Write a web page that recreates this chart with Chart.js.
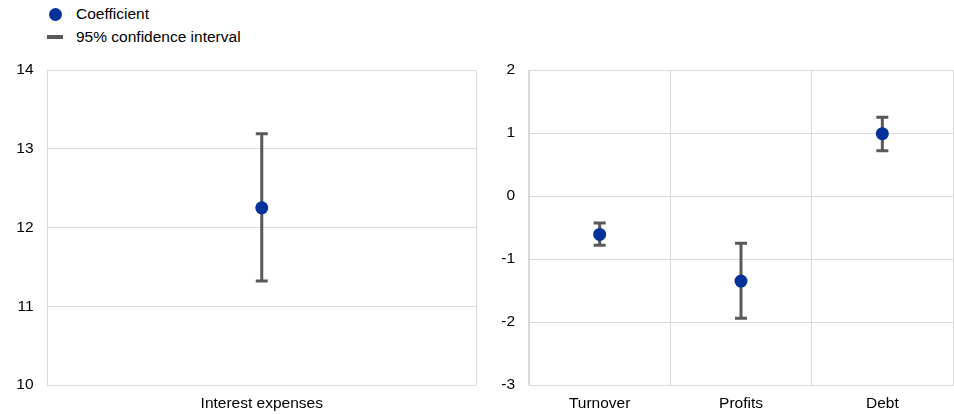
<!DOCTYPE html>
<html>
<head>
<meta charset="utf-8">
<script src="https://cdn.jsdelivr.net/npm/chart.js@4"></script>
<style>
  html,body{margin:0;padding:0;background:#fff;overflow:hidden;}
  #wrap{position:relative;width:954px;height:414px;font-family:"Liberation Sans",Arial,sans-serif;color:#000;}
  .legend-item{position:absolute;left:0;font-size:15.5px;line-height:18px;white-space:nowrap;}
  .dot{position:absolute;left:48.5px;top:2.5px;width:13px;height:13px;border-radius:50%;background:#003299;}
  .bar{position:absolute;left:47px;top:7px;width:16px;height:4px;background:#595959;}
  .lt{position:absolute;left:76px;top:0;}
  #cA{position:absolute;left:0;top:0;width:480px;height:414px;}
  #cB{position:absolute;left:480px;top:0;width:474px;height:414px;}
</style>
</head>
<body>
<div id="wrap">
  <div class="legend-item" style="top:5px;"><span class="dot"></span><span class="lt">Coefficient</span></div>
  <div class="legend-item" style="top:28px;"><span class="bar"></span><span class="lt">95% confidence interval</span></div>
  <div id="cA"><canvas id="chartA"></canvas></div>
  <div id="cB"><canvas id="chartB"></canvas></div>
</div>
<script>
// ---- Data ----
const leftCategories = ["Interest expenses"];
const leftCoefficient = [12.25];
const leftLower = [11.32];
const leftUpper = [13.19];
const leftTicks = { min: 10, max: 14, step: 1 };

const rightCategories = ["Turnover", "Profits", "Debt"];
const rightCoefficient = [-0.61, -1.35, 0.99];
const rightLower = [-0.78, -1.94, 0.72];
const rightUpper = [-0.43, -0.75, 1.25];
const rightTicks = { min: -3, max: 2, step: 1 };

// ---- Styles ----
const FONT = { family: '"Liberation Sans", Arial, sans-serif', size: 15.5 };
const GRID = '#d9d9d9';
const DOT = '#003299';
const WHISK = '#595959';

const errorBarPlugin = {
  id: 'errorBars',
  beforeDatasetsDraw(chart, args, opts) {
    const ctx = chart.ctx;
    const x = chart.scales.x, y = chart.scales.y;
    ctx.save();
    ctx.strokeStyle = WHISK;
    ctx.lineWidth = 3;
    ctx.lineCap = 'butt';
    opts.lower.forEach((lo, i) => {
      const hi = opts.upper[i];
      const px = x.getPixelForValue(i);
      const pl = y.getPixelForValue(lo);
      const ph = y.getPixelForValue(hi);
      ctx.beginPath();
      ctx.moveTo(px, pl); ctx.lineTo(px, ph);
      ctx.moveTo(px - 6, pl); ctx.lineTo(px + 6, pl);
      ctx.moveTo(px - 6, ph); ctx.lineTo(px + 6, ph);
      ctx.stroke();
    });
    ctx.restore();
  }
};

function makeChart(id, cats, coef, lower, upper, ticks, yWidth, padRight) {
  return new Chart(document.getElementById(id), {
    type: 'line',
    data: {
      labels: cats,
      datasets: [{
        label: 'Coefficient',
        data: coef,
        showLine: false,
        pointRadius: 6.5,
        pointHoverRadius: 6.5,
        pointBackgroundColor: DOT,
        pointBorderColor: DOT,
        pointBorderWidth: 0,
        borderColor: DOT,
        backgroundColor: DOT
      }]
    },
    plugins: [errorBarPlugin],
    options: {
      responsive: true,
      maintainAspectRatio: false,
      animation: false,
      events: [],
      layout: { autoPadding: false, padding: { top: 70, right: padRight, bottom: 0, left: 0 } },
      plugins: {
        legend: { display: false },
        tooltip: { enabled: false },
        errorBars: { lower: lower, upper: upper }
      },
      scales: {
        x: {
          type: 'category',
          offset: true,
          grid: { offset: true, color: GRID, lineWidth: 1, drawTicks: false },
          border: { color: GRID, width: 1 },
          ticks: { font: FONT, color: '#000', padding: 9, maxRotation: 0 },
          afterFit(s) { s.height = 29; }
        },
        y: {
          min: ticks.min, max: ticks.max,
          grid: { color: GRID, lineWidth: 1, drawTicks: false },
          border: { color: GRID, width: 1 },
          ticks: { stepSize: ticks.step, font: FONT, color: '#000', padding: 14 },
          afterFit(s) { s.width = yWidth; }
        }
      }
    }
  });
}

makeChart('chartA', leftCategories, leftCoefficient, leftLower, leftUpper, leftTicks, 47.5, 4);
makeChart('chartB', rightCategories, rightCoefficient, rightLower, rightUpper, rightTicks, 49, 1);
</script>
</body>
</html>
